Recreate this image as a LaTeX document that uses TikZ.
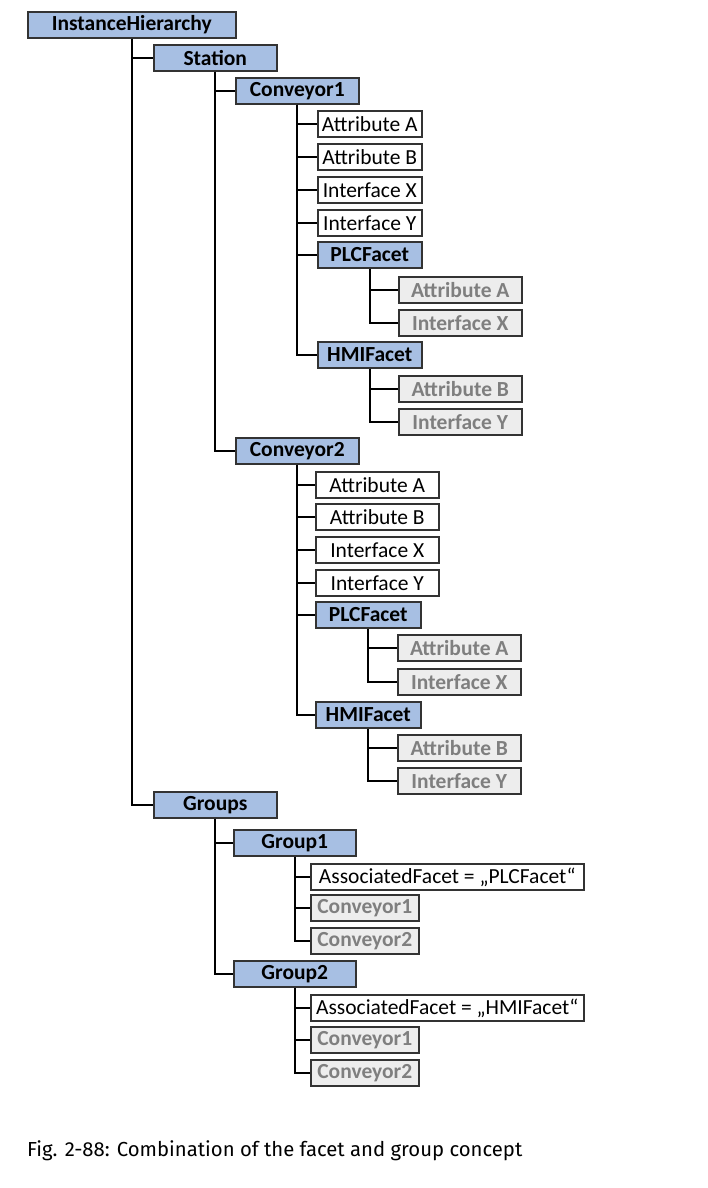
\documentclass[tikz,border=0pt]{standalone}
\usepackage{fontspec}
\setmainfont{Carlito}
\newfontfamily\capfont{Fira Sans}
\usepackage{xcolor}
\definecolor{boxblue}{HTML}{A7BFE3}
\definecolor{boxgrey}{HTML}{EDEDED}
\definecolor{txtgrey}{HTML}{7F7F7F}

\begin{document}
\begin{tikzpicture}[x=1pt, y=-1pt,
	blue/.style={rectangle, anchor=west, draw=black!80, fill=boxblue, line width=1.5pt, minimum height=26, inner sep=1.5pt, font=\fontsize{21.5}{24}\selectfont\bfseries},
	plain/.style={rectangle, anchor=west, draw=black!80, fill=white, line width=1.5pt, minimum height=26, inner sep=1.5pt, font=\fontsize{21.5}{24}\selectfont},
	grey/.style={rectangle, anchor=west, draw=black!80, fill=boxgrey, line width=1.5pt, minimum height=26, inner sep=1.5pt, text=txtgrey, font=\fontsize{21.5}{24}\selectfont\bfseries},
	link/.style={line width=1.6pt, black},
	]
	\useasboundingbox (0,0) rectangle (708,1188);
	
	%Nodes
	\node[blue, minimum width=208] (ih)   at (27,25)   {InstanceHierarchy};
	\node[blue, minimum width=123] (st)   at (153,58)  {Station};
	\node[blue, minimum width=123] (c1)   at (235,91)  {Conveyor1};
	\node[plain, minimum width=104] (c1aa) at (317,124) {Attribute A};
	\node[plain, minimum width=104] (c1ab) at (317,157) {Attribute B};
	\node[plain, minimum width=104] (c1ix) at (317,190) {Interface X};
	\node[plain, minimum width=104] (c1iy) at (317,223) {Interface Y};
	\node[blue, minimum width=104] (c1p)  at (317,255) {PLCFacet};
	\node[grey, minimum width=123] (c1pa) at (398,290) {Attribute A};
	\node[grey, minimum width=123] (c1px) at (398,323) {Interface X};
	\node[blue, minimum width=104] (c1h)  at (317,355) {HMIFacet};
	\node[grey, minimum width=123] (c1hb) at (398,389) {Attribute B};
	\node[grey, minimum width=123] (c1hy) at (398,422) {Interface Y};
	
	\node[blue, minimum width=123] (c2)   at (235,451) {Conveyor2};
	\node[plain, minimum width=123] (c2aa) at (315,485) {Attribute A};
	\node[plain, minimum width=123] (c2ab) at (315,517) {Attribute B};
	\node[plain, minimum width=123] (c2ix) at (315,550) {Interface X};
	\node[plain, minimum width=123] (c2iy) at (315,583) {Interface Y};
	\node[blue, minimum width=105] (c2p)  at (315,615) {PLCFacet};
	\node[grey, minimum width=123] (c2pa) at (397,648) {Attribute A};
	\node[grey, minimum width=123] (c2px) at (397,682) {Interface X};
	\node[blue, minimum width=105] (c2h)  at (315,715) {HMIFacet};
	\node[grey, minimum width=123] (c2hb) at (397,748) {Attribute B};
	\node[grey, minimum width=123] (c2hy) at (397,781) {Interface Y};
	
	\node[blue, minimum width=123] (gr)   at (153,805) {Groups};
	\node[blue, minimum width=122] (g1)   at (233,843) {Group1};
	\node[plain, minimum width=273] (g1f)  at (310,877) {AssociatedFacet = „PLCFacet“};
	\node[grey, minimum width=108] (g1c1) at (310,908) {Conveyor1};
	\node[grey, minimum width=108] (g1c2) at (310,941) {Conveyor2};
	\node[blue, minimum width=122] (g2)   at (233,974) {Group2};
	\node[plain, minimum width=273] (g2f)  at (310,1008) {AssociatedFacet = „HMIFacet“};
	\node[grey, minimum width=108] (g2c1) at (310,1040) {Conveyor1};
	\node[grey, minimum width=108] (g2c2) at (310,1073) {Conveyor2};
	
	\node[anchor=west, inner sep=0pt, font=\capfont\fontsize{20.3}{24}\selectfont] (cap) at (27,1151) {Fig. 2-88: Combination of the facet and group concept};
	
	%Lines
	\foreach \p/\c in {ih/st, ih/gr, st/c1, st/c2,
		c1/c1aa, c1/c1ab, c1/c1ix, c1/c1iy, c1/c1p, c1/c1h,
		c1p/c1pa, c1p/c1px, c1h/c1hb, c1h/c1hy,
		c2/c2aa, c2/c2ab, c2/c2ix, c2/c2iy, c2/c2p, c2/c2h,
		c2p/c2pa, c2p/c2px, c2h/c2hb, c2h/c2hy,
		gr/g1, gr/g2, g1/g1f, g1/g1c1, g1/g1c2, g2/g2f, g2/g2c1, g2/g2c2}
		\draw[link] (\p.south) |- (\c.west);
\end{tikzpicture}
\end{document}
